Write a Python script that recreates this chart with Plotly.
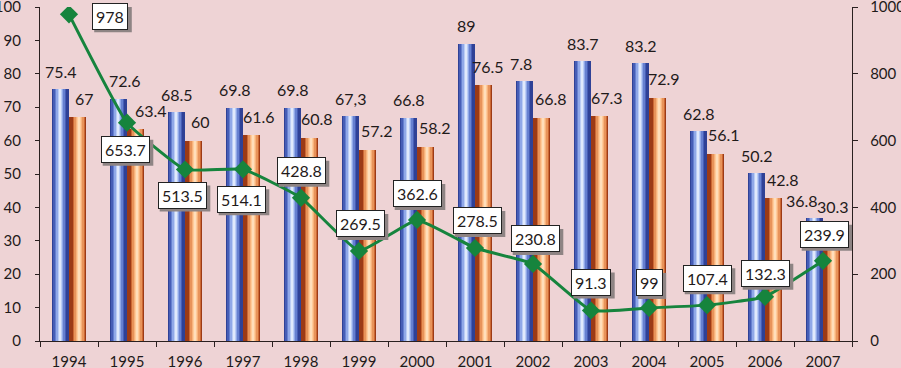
import plotly.graph_objects as go

# ---------------- data ----------------
years = ["1994", "1995", "1996", "1997", "1998", "1999", "2000",
         "2001", "2002", "2003", "2004", "2005", "2006", "2007"]
blue_vals = [75.4, 72.6, 68.5, 69.8, 69.8, 67.3, 66.8, 89.0, 77.8, 83.7, 83.2, 62.8, 50.2, 36.8]
blue_labels = ["75.4", "72.6", "68.5", "69.8", "69.8", "67,3", "66.8", "89", "7.8", "83.7", "83.2", "62.8", "50.2", "36.8"]
orange_vals = [67.0, 63.4, 60.0, 61.6, 60.8, 57.2, 58.2, 76.5, 66.8, 67.3, 72.9, 56.1, 42.8, 30.3]
orange_labels = ["67", "63.4", "60", "61.6", "60.8", "57.2", "58.2", "76.5", "66.8", "67.3", "72.9", "56.1", "42.8", "30.3"]
line_vals = [978, 653.7, 513.5, 514.1, 428.8, 269.5, 362.6, 278.5, 230.8, 91.3, 99, 107.4, 132.3, 239.9]
line_labels = ["978", "653.7", "513.5", "514.1", "428.8", "269.5", "362.6", "278.5", "230.8", "91.3", "99", "107.4", "132.3", "239.9"]
left_ticks = [0, 10, 20, 30, 40, 50, 60, 70, 80, 90, 100]
right_ticks = [0, 200, 400, 600, 800, 1000]

# ---------------- styling / layout helpers ----------------
FONT = "Lato"
TXT = "#1f1a1a"
BG = "#EED3D5"
BAR_W = 0.29

# label pixel nudges (layout only)
blue_dx = [0, 6, 0, 0, 0, 0, 0, 0, -4, 0, 0, 0, 0, -13]
orange_dx = [7, 16, 7, 8, 8, 10, 10, 5, 10, 8, 7, 9, 10, 2]
orange_dy = [19] * 13 + [33]
line_dx = [41, -2, -3, -2, 0, 1, 0, 2, 2, 0, 0, 0, 0, 1]
line_dy = [-2, -27, -26, -30, 27, 27, 26, 27, 25, 28, 25, 27, 23, 26]

blue_layers = [(1.00, "#2F4196"), (0.80, "#465DB6"), (0.60, "#6680D0"),
               (0.42, "#90A8E8"), (0.26, "#BBCDF5"), (0.12, "#E0E9FC")]
orange_layers = [(1.00, "#9C3A16"), (0.76, "#CC6834"), (0.58, "#E8935A"),
                 (0.40, "#F7B27C"), (0.24, "#FFCB9A"), (0.10, "#FFDEBB")]

fig = go.Figure()


def add_gradient_bars(vals, layers, left, center_frac):
    for frac, col in layers:
        w = BAR_W * frac
        c = left + BAR_W * center_frac
        off = max(left, min(c - w / 2, left + BAR_W - w))
        fig.add_trace(go.Bar(
            x=years, y=vals, width=w, offset=off,
            marker=dict(color=col, line=dict(width=0)),
            hoverinfo="skip", showlegend=False, yaxis="y"))


add_gradient_bars(blue_vals, blue_layers, -BAR_W, 0.45)
add_gradient_bars(orange_vals, orange_layers, 0.0, 0.60)

fig.add_trace(go.Scatter(
    x=years, y=line_vals, yaxis="y2", mode="lines+markers",
    line=dict(color="#16843D", width=3, shape="spline", smoothing=0.35),
    marker=dict(symbol="diamond", size=14, color="#16843D"),
    showlegend=False, hoverinfo="skip"))

annotations = []
shapes = []
for i, (v, t) in enumerate(zip(blue_vals, blue_labels)):
    annotations.append(dict(x=i - BAR_W / 2, y=v, xref="x", yref="y", text=t,
                            showarrow=False, xshift=blue_dx[i], yshift=18,
                            yanchor="middle", font=dict(family=FONT, size=16, color=TXT)))
for i, (v, t) in enumerate(zip(orange_vals, orange_labels)):
    annotations.append(dict(x=i + BAR_W / 2, y=v, xref="x", yref="y", text=t,
                            showarrow=False, xshift=orange_dx[i], yshift=orange_dy[i],
                            yanchor="middle", font=dict(family=FONT, size=16, color=TXT)))
for i, (v, t) in enumerate(zip(line_vals, line_labels)):
    # drop shadow as a pixel-sized shape anchored at the point
    ndig = sum(ch.isdigit() for ch in t)
    w = 9.2 * ndig + 3.8 * (len(t) - ndig) + 10
    h = 26
    cx, cy = line_dx[i] + 3, line_dy[i] - 3
    shapes.append(dict(type="rect", xref="x", yref="y2", xsizemode="pixel", ysizemode="pixel",
                       xanchor=i, yanchor=v, x0=cx - w / 2, x1=cx + w / 2,
                       y0=cy - h / 2, y1=cy + h / 2, fillcolor="#8E8484",
                       line=dict(width=0), layer="above"))
    annotations.append(dict(x=i, y=v, xref="x", yref="y2", text=t, showarrow=False,
                            xshift=line_dx[i], yshift=line_dy[i],
                            bgcolor="white", bordercolor="#222", borderwidth=1, borderpad=3,
                            font=dict(family=FONT, size=16, color=TXT)))

axis_common = dict(tickcolor="#2a2020", showline=True, linecolor="#2a2020", linewidth=1.3,
                   showgrid=False, ticklabeloverflow="allow", automargin=False,
                   tickfont=dict(family=FONT, size=15, color=TXT))

fig.update_layout(
    width=901, height=368,
    margin=dict(l=40, r=49, t=7, b=27, autoexpand=False),
    paper_bgcolor=BG, plot_bgcolor=BG,
    barmode="overlay", bargap=0,
    showlegend=False,
    annotations=annotations,
    shapes=shapes,
    font=dict(family=FONT, size=15, color=TXT),
    xaxis=dict(type="category", tickson="boundaries", ticks="outside", ticklen=5,
               range=[-0.5, 13.5], ticklabelstandoff=7, **axis_common),
    yaxis=dict(range=[0, 100], tickvals=left_ticks, ticks="outside", ticklen=4,
               zeroline=False, ticklabelstandoff=11, **axis_common),
    yaxis2=dict(range=[0, 1000], tickvals=right_ticks, overlaying="y", side="right",
                ticks="outside", ticklen=5, zeroline=False, ticklabelstandoff=9,
                **axis_common),
)

fig.write_html("out.html",
               config={"displayModeBar": False},
               post_script="document.body.style.margin='0px';"
                           "document.body.style.background='%s';" % BG)
